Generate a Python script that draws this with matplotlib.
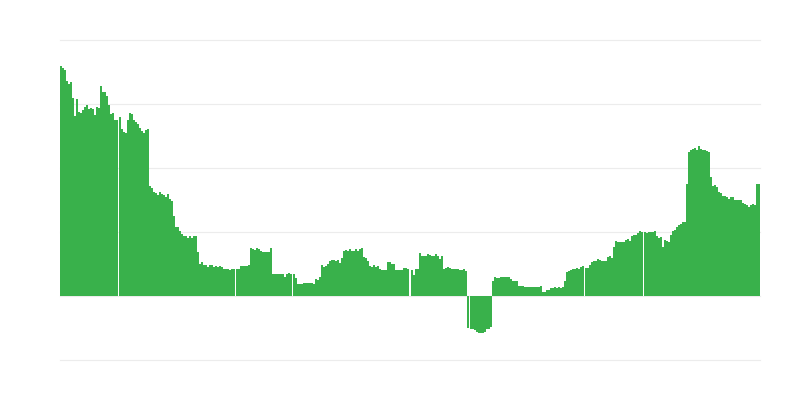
import numpy as np
import matplotlib
matplotlib.use("Agg")
import matplotlib.pyplot as plt

# Bar values, split into the blocks separated by thin white gaps in the chart
block_1 = [3.59, 3.57, 3.53, 3.36, 3.31, 3.34, 3.09, 2.82, 3.08, 2.88,
           2.86, 2.90, 2.96, 2.98, 2.92, 2.93, 2.92, 2.83, 2.95, 2.93,
           3.28, 3.18, 3.19, 3.13, 2.99, 2.85, 2.86, 2.75, 2.75]
block_2 = [2.79, 2.61, 2.57, 2.55, 2.75, 2.86, 2.85, 2.75, 2.72, 2.68,
           2.63, 2.58, 2.55, 2.59, 2.61, 1.72, 1.68, 1.63, 1.61, 1.58,
           1.62, 1.59, 1.58, 1.55, 1.59, 1.52, 1.48, 1.25, 1.08, 1.08,
           1.01, 0.97, 0.93, 0.93, 0.90, 0.93, 0.90, 0.94, 0.93, 0.69,
           0.50, 0.53, 0.49, 0.48, 0.46, 0.48, 0.48, 0.46, 0.47, 0.46,
           0.47, 0.46, 0.42, 0.42, 0.42, 0.40, 0.42, 0.42]
block_3 = [0.42, 0.42, 0.47, 0.47, 0.47, 0.47, 0.48, 0.75, 0.73, 0.72,
           0.75, 0.73, 0.70, 0.69, 0.69, 0.69, 0.69, 0.75, 0.34, 0.34,
           0.34, 0.34, 0.34, 0.34, 0.30, 0.34, 0.36, 0.34]
block_4 = [0.34, 0.28, 0.19, 0.18, 0.19, 0.21, 0.21, 0.21, 0.21, 0.20,
           0.18, 0.26, 0.25, 0.30, 0.48, 0.46, 0.47, 0.50, 0.55, 0.56,
           0.56, 0.54, 0.56, 0.52, 0.60, 0.71, 0.72, 0.71, 0.73, 0.70,
           0.70, 0.73, 0.71, 0.73, 0.75, 0.61, 0.59, 0.55, 0.47, 0.45,
           0.48, 0.46, 0.47, 0.42, 0.40, 0.41, 0.40, 0.53, 0.53, 0.50,
           0.50, 0.40, 0.41, 0.40, 0.41, 0.44, 0.43, 0.42]
block_5 = [0.41, 0.33, 0.42, 0.42, 0.67, 0.62, 0.62, 0.62, 0.66, 0.64,
           0.62, 0.62, 0.66, 0.62, 0.58, 0.62, 0.42, 0.44, 0.45, 0.44,
           0.42, 0.42, 0.42, 0.42, 0.40, 0.41, 0.42, 0.39, -0.50]
block_6 = [-0.52, -0.52, -0.53, -0.57, -0.58, -0.58, -0.58, -0.57, -0.52, -0.51,
           -0.49, 0.23, 0.30, 0.28, 0.28, 0.30, 0.30, 0.30, 0.30, 0.30,
           0.27, 0.23, 0.23, 0.23, 0.16, 0.16, 0.16, 0.14, 0.14, 0.14,
           0.14, 0.14, 0.14, 0.14, 0.14, 0.16, 0.07, 0.06, 0.09, 0.09,
           0.12, 0.12, 0.14, 0.13, 0.14, 0.12, 0.14, 0.23, 0.375, 0.39,
           0.41, 0.42, 0.42, 0.44, 0.42, 0.45, 0.47]
block_7 = [0.44, 0.44, 0.48, 0.53, 0.55, 0.55, 0.58, 0.56, 0.55, 0.55,
           0.55, 0.61, 0.625, 0.59, 0.77, 0.86, 0.84, 0.84, 0.84, 0.84,
           0.875, 0.89, 0.86, 0.94, 0.95, 0.95, 0.98, 1.02, 1.00]
block_8 = [1.00, 0.98, 1.00, 1.00, 1.00, 1.02, 0.93, 0.90, 0.92, 0.77,
           0.875, 0.86, 0.84, 0.95, 1.02, 1.03, 1.08, 1.11, 1.125, 1.16,
           1.16, 1.75, 2.25, 2.28, 2.30, 2.31, 2.28, 2.34, 2.30, 2.28,
           2.28, 2.27, 2.25, 1.86, 1.72, 1.73, 1.71, 1.625, 1.61, 1.56,
           1.56, 1.54, 1.52, 1.55, 1.55, 1.50, 1.50, 1.50, 1.50, 1.45,
           1.44, 1.42, 1.39, 1.42, 1.44, 1.42, 1.75, 1.75]

blocks = [block_1, block_2, block_3, block_4, block_5, block_6, block_7, block_8]
grid_levels = [-1, 0, 1, 2, 3, 4]

GREEN = "#39b14b"
GAP = 0.5  # white separator between blocks, in bar widths

# x position of each bar: consecutive inside a block, small gap between blocks
xs, vals = [], []
start = 0.0
for block in blocks:
    xs.extend(start + np.arange(len(block)))
    vals.extend(block)
    start += len(block) + GAP
total = start - GAP

fig = plt.figure(figsize=(8, 4), dpi=100)
ax = fig.add_axes([0.075, 0.1, 0.875, 0.8])

# light horizontal grid, drawn unclipped so the edge lines show too
for lvl in grid_levels:
    ax.axhline(lvl, color="#ececec", linewidth=0.8, zorder=0, clip_on=False)

ax.bar(xs, vals, width=1.0, align="edge", color=GREEN,
       linewidth=0, antialiased=False, zorder=2)

ax.set_xlim(0, total)
ax.set_ylim(-1, 4)
ax.axis("off")

fig.savefig("out.png", dpi=100)
